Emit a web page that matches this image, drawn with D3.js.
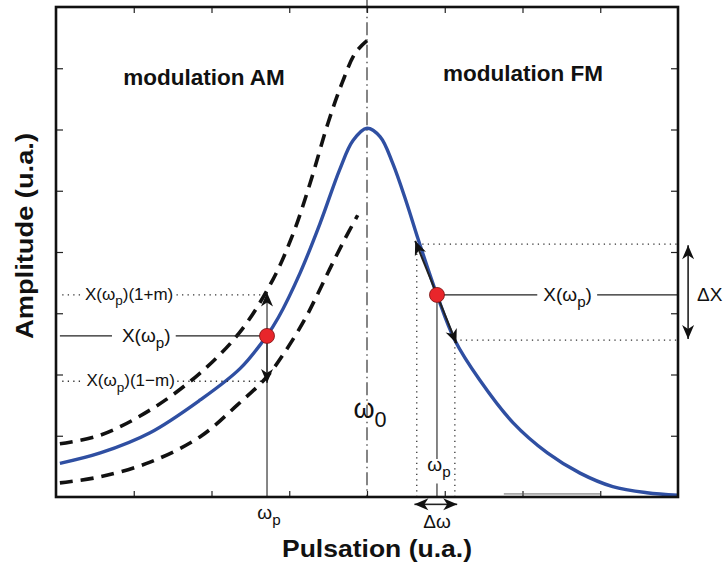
<!DOCTYPE html>
<html>
<head>
<meta charset="utf-8">
<script src="https://cdnjs.cloudflare.com/ajax/libs/d3/7.8.5/d3.min.js"></script>
<style>
  body { margin: 0; background: #fff; }
  text { font-family: "Liberation Sans", Arial, Helvetica, sans-serif; fill: #111; }
</style>
</head>
<body>
<svg id="chart" width="724" height="566"></svg>
<script>
// resonance curve X(w) and the AM envelopes X(w)(1+m), X(w)(1-m)  [pulsation, amplitude]
var resonance = [[0.05,0.55],[0.57,0.72],[1.21,1.05],[1.85,1.58],[2.37,2.10],[2.71,2.63],[2.86,2.93],
    [3.14,3.66],[3.40,4.48],[3.65,5.35],[3.82,5.82],[4.00,6.02],[4.17,5.88],[4.33,5.45],[4.51,4.80],
    [4.66,4.20],[4.90,3.30],[5.13,2.56],[5.45,1.91],[5.88,1.21],[6.32,0.72],[6.74,0.39],[7.16,0.17],
    [7.60,0.07],[8.00,0.03]];
var amUpper = [[0.05,0.87],[0.57,1.01],[1.21,1.42],[1.85,2.02],[2.37,2.70],[2.79,3.55],[3.05,4.30],
    [3.27,5.13],[3.50,6.11],[3.68,6.76],[3.85,7.25],[4.00,7.45]];
var amLower = [[0.05,0.23],[0.57,0.33],[1.21,0.57],[1.85,0.98],[2.33,1.50],[2.71,1.96],[2.95,2.38],
    [3.20,2.90],[3.36,3.30],[3.52,3.72],[3.69,4.15],[3.88,4.60]];

var xTicks = [1, 2, 3, 4, 5, 6, 7];
var yTicks = [1, 2, 3, 4, 5, 6, 7];
var omega0 = 4;
var amPoint = [2.714, 2.63];     // (wp, X(wp)) left
var amLevels = [3.30, 1.89];     // X(wp)(1+m), X(wp)(1-m)
var fmPoint = [4.90, 3.30];      // (wp, X(wp)) right
var fmBand = [4.64, 5.13];       // wp -/+ dw/2
var fmLevels = [4.13, 2.56];     // X at the band edges

var width = 724, height = 566;
var x = d3.scaleLinear().domain([0, 8]).range([56, 678]);
var y = d3.scaleLinear().domain([0, 8]).range([497, 7]);

var svg = d3.select("#chart");

var defs = svg.append("defs");
defs.append("marker")
    .attr("id", "head")
    .attr("viewBox", "-15 -7 16 14")
    .attr("markerUnits", "userSpaceOnUse")
    .attr("markerWidth", 16).attr("markerHeight", 14)
    .attr("refX", 0).attr("refY", 0)
    .attr("orient", "auto")
    .append("path")
    .attr("d", "M0,0 L-14,-6 L-10,0 L-14,6Z")
    .attr("fill", "#111");

// ticks, inside the frame on all sides
svg.append("g").attr("transform", "translate(0," + y(0) + ")")
    .call(d3.axisBottom(x).tickValues(xTicks).tickSize(-6).tickFormat(""));
svg.append("g").attr("transform", "translate(0," + y(8) + ")")
    .call(d3.axisTop(x).tickValues(xTicks).tickSize(-6).tickFormat(""));
svg.append("g").attr("transform", "translate(" + x(0) + ",0)")
    .call(d3.axisLeft(y).tickValues(yTicks).tickSize(-7).tickFormat(""));
svg.append("g").attr("transform", "translate(" + x(8) + ",0)")
    .call(d3.axisRight(y).tickValues(yTicks).tickSize(-7).tickFormat(""));
svg.selectAll(".domain").remove();
svg.selectAll(".tick line").attr("stroke", "#222").attr("stroke-width", 1.2);

function seg(x1, y1, x2, y2) {
    return svg.append("line")
        .attr("x1", x(x1)).attr("y1", y(y1))
        .attr("x2", x(x2)).attr("y2", y(y2))
        .attr("stroke", "#222").attr("stroke-width", 1.1);
}
function dotted(x1, y1, x2, y2) {
    return seg(x1, y1, x2, y2).attr("stroke-dasharray", "1.3,4.2").attr("stroke-width", 1.3).attr("stroke", "#333");
}

// omega0 dash-dot line
svg.append("line")
    .attr("x1", x(omega0)).attr("x2", x(omega0))
    .attr("y1", y(8.12)).attr("y2", y(0))
    .attr("stroke", "#222").attr("stroke-width", 1.1)
    .attr("stroke-dasharray", "13,4,1.5,4");

var line = d3.line().x(function(d){ return x(d[0]); }).y(function(d){ return y(d[1]); })
    .curve(d3.curveCatmullRom.alpha(0.5));

svg.append("path").datum(amUpper).attr("d", line)
    .attr("fill", "none").attr("stroke", "#111").attr("stroke-width", 3.6)
    .attr("stroke-dasharray", "13,8");
svg.append("path").datum(amLower).attr("d", line)
    .attr("fill", "none").attr("stroke", "#111").attr("stroke-width", 3.6)
    .attr("stroke-dasharray", "13,8");

// faint baseline trace
seg(5.76, 0.05, 7.0, 0.05).attr("stroke", "#666").attr("stroke-width", 1);

svg.append("path").datum(resonance).attr("d", line)
    .attr("fill", "none").attr("stroke", "#2f4fa2").attr("stroke-width", 3.4);

// ---- AM side annotations
dotted(0.08, amLevels[0], 0.34, amLevels[0]);
dotted(1.55, amLevels[0], amPoint[0] - 0.03, amLevels[0]);
dotted(0.08, amLevels[1], 0.34, amLevels[1]);
dotted(1.56, amLevels[1], amPoint[0] - 0.03, amLevels[1]);
seg(0.05, amPoint[1], 0.72, amPoint[1]);
seg(1.54, amPoint[1], amPoint[0], amPoint[1]);
seg(amPoint[0], 0, amPoint[0], amLevels[0] + 0.04).attr("marker-end", "url(#head)");
seg(amPoint[0], amPoint[1], amPoint[0], amLevels[1] - 0.03).attr("marker-end", "url(#head)");

// ---- FM side annotations
dotted(fmBand[0], 0, fmBand[0], fmLevels[0]);
dotted(fmBand[1], 0, fmBand[1], fmLevels[1]);
dotted(fmBand[0], fmLevels[0], 8.03, fmLevels[0]);
dotted(fmBand[1], fmLevels[1], 8.03, fmLevels[1]);
seg(fmPoint[0], fmPoint[1], 6.19, fmPoint[1]);
seg(6.96, fmPoint[1], 8, fmPoint[1]);
seg(fmPoint[0], fmPoint[1], fmPoint[0], 0.62);
seg(fmPoint[0], 0.0, fmPoint[0], 0.22);
seg(fmPoint[0], fmPoint[1], fmBand[0] - 0.02, fmLevels[0] + 0.05).attr("stroke-width", 2).attr("marker-end", "url(#head)");
seg(fmPoint[0], fmPoint[1], fmBand[1] + 0.02, fmLevels[1] - 0.05).attr("stroke-width", 2).attr("marker-end", "url(#head)");
// delta X and delta omega double arrows
seg(8.13, fmPoint[1], 8.13, fmLevels[0] - 0.02).attr("stroke-width", 1.6).attr("marker-end", "url(#head)");
seg(8.13, fmPoint[1], 8.13, fmLevels[1] + 0.02).attr("stroke-width", 1.6).attr("marker-end", "url(#head)");
seg(fmPoint[0], -0.12, fmBand[0] - 0.03, -0.12).attr("stroke-width", 1.6).attr("marker-end", "url(#head)");
seg(fmPoint[0], -0.12, fmBand[1] + 0.03, -0.12).attr("stroke-width", 1.6).attr("marker-end", "url(#head)");

// red operating points
svg.selectAll("circle.op").data([amPoint, fmPoint]).enter().append("circle")
    .attr("class", "op")
    .attr("cx", function(d){ return x(d[0]); })
    .attr("cy", function(d){ return y(d[1]); })
    .attr("r", 7.5)
    .attr("fill", "#e8262b").attr("stroke", "#7a1212").attr("stroke-width", 0.8);

// frame
svg.append("rect")
    .attr("x", x(0)).attr("y", y(8))
    .attr("width", x(8) - x(0)).attr("height", y(0) - y(8))
    .attr("fill", "none").attr("stroke", "#111").attr("stroke-width", 2.6);

// ---- texts
function label(px, py, parts, size, anchor) {
    var t = svg.append("text").attr("x", px).attr("y", py)
        .attr("font-size", size).attr("text-anchor", anchor || "middle");
    var shift = 0;
    parts.forEach(function(p) {
        var target = p[1] ? size * 0.32 : 0;
        t.append("tspan").text(p[0])
            .attr("dy", target - shift)
            .attr("font-size", p[1] ? size * 0.8 : size);
        shift = target;
    });
    return t;
}

label(x(1.16), y(amPoint[1]) + 6, [["X(ω", 0], ["p", 1], [")", 0]], 19);
label(x(6.58), y(fmPoint[1]) + 6, [["X(ω", 0], ["p", 1], [")", 0]], 19);
label(x(0.94), y(amLevels[0]) + 5, [["X(ω", 0], ["p", 1], [")(1+m)", 0]], 17);
label(x(0.96), y(amLevels[1]) + 5, [["X(ω", 0], ["p", 1], [")(1−m)", 0]], 17);
label(697, y(fmPoint[1]) + 6, [["ΔX", 0]], 19, "start");
label(x(amPoint[0]) + 2, 519, [["ω", 0], ["p", 1]], 19);
label(x(fmPoint[0]) + 2, 471, [["ω", 0], ["p", 1]], 19);
label(x(fmPoint[0]), 528, [["Δω", 0]], 19);
label(x(omega0) + 3, 418, [["ω", 0], ["0", 1]], 27);

svg.append("text").attr("x", 204).attr("y", 85).attr("text-anchor", "middle")
    .attr("font-size", 22.5).attr("font-weight", "bold").text("modulation AM");
svg.append("text").attr("x", 523).attr("y", 81).attr("text-anchor", "middle")
    .attr("font-size", 22.5).attr("font-weight", "bold").text("modulation FM");
svg.append("text").attr("x", 377).attr("y", 557).attr("text-anchor", "middle")
    .attr("font-size", 24).attr("font-weight", "bold")
    .attr("textLength", 190).attr("lengthAdjust", "spacingAndGlyphs").text("Pulsation (u.a.)");
svg.append("text").attr("transform", "translate(33,236) rotate(-90)").attr("text-anchor", "middle")
    .attr("font-size", 24).attr("font-weight", "bold")
    .attr("textLength", 206).attr("lengthAdjust", "spacingAndGlyphs").text("Amplitude (u.a.)");
</script>
</body>
</html>
